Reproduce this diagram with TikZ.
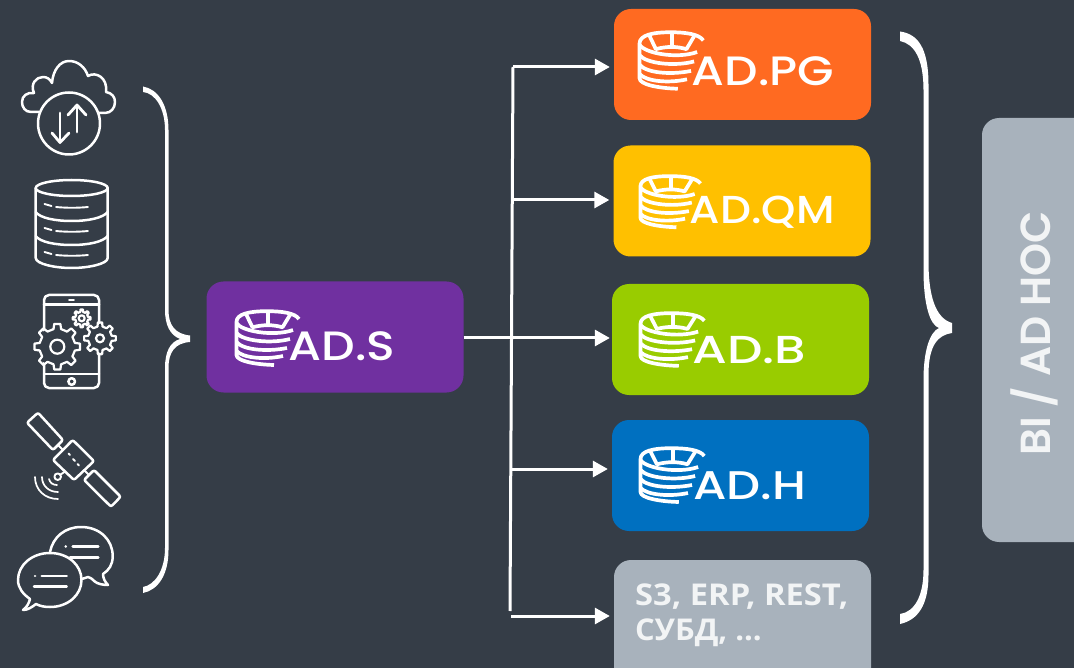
\documentclass[tikz,border=0pt]{standalone}
\usepackage{fontspec}
\usetikzlibrary{arrows.meta}
\newfontfamily\popsfont{Poppins Medium}
\newfontfamily\popsbold{Poppins SemiBold}
\newfontfamily\semifont{Open Sans}[BoldFont={Open Sans Bold}]
\definecolor{bgc}{HTML}{353D47}
\definecolor{cpg}{HTML}{FF6A21}
\definecolor{cqm}{HTML}{FFC000}
\definecolor{cb}{HTML}{99CC00}
\definecolor{ch}{HTML}{0070C0}
\definecolor{cs}{HTML}{7030A0}
\definecolor{cg}{HTML}{A8B2BC}
\definecolor{lt}{HTML}{F2F4F5}
\tikzset{
  card/.style={rounded corners=17pt,minimum width=257pt,minimum height=111pt,inner sep=0pt},
  lab/.style={anchor=base west,inner sep=0pt,text=white,transform shape},
  wire/.style={draw=white,line width=3pt},
  arr/.style={wire,-{Triangle[length=15pt,width=16pt]},shorten >=4pt},
  ico/.style={draw=white,line width=2.5pt,line join=round,line cap=round},
  logol/.style={draw=white,line width=3.7pt,line cap=butt,line join=round}
}
\newcommand{\adlogo}[4]{%
\begin{scope}[shift={(#1,#2)},xscale=#3,yscale=#4]
  \draw[logol] (64,9) .. controls (60,3) and (47,1.2) .. (32,1.2) .. controls (14,1.2) and (1.5,4) .. (1.5,12) -- (1.5,45) .. controls (1.5,51) and (20,54.5) .. (39,55);
  \draw[logol] (11,4) -- (17.5,17.3) .. controls (28,14.5) and (38,14.5) .. (47.5,17.3) -- (55,5);
  \draw[logol] (33,1.5) -- (33,15);
  \draw[logol] (1.5,13) .. controls (6,21) and (38,27) .. (58,20);
  \draw[logol] (1.5,23) .. controls (8,31) and (36,34) .. (55,29);
  \draw[logol] (1.5,32) .. controls (8,40) and (32,42) .. (52,38);
  \draw[logol] (1.5,41) .. controls (8,48) and (30,50) .. (48,46);
\end{scope}}
\newcommand{\gearico}[6]{% x y outer root teeth hole
\begin{scope}[shift={(#1,#2)}]
  \fill[bgc] (0,0) circle[radius=#3*0.9pt];
  \foreach \i in {1,...,#5}{
    \pgfmathsetmacro{\aa}{360/#5*\i}
    \pgfmathsetmacro{\st}{360/#5}
    \draw[ico,line width=2.2pt] (\aa-\st*0.27:#4) -- (\aa-\st*0.17:#3) -- (\aa+\st*0.17:#3) -- (\aa+\st*0.27:#4) -- (\aa+\st*0.73:#4);
  }
  \draw[ico,line width=2.2pt] (0,0) circle[radius=#6*1pt];
\end{scope}}
\begin{document}
\begin{tikzpicture}[x=1pt,y=-1pt]
\useasboundingbox (0,0) rectangle (1074,668);
\clip (0,0) rectangle (1074,668);
\fill[bgc] (0,0) rectangle (1074,668);

% boxes
\node[card,fill=cs] (ads) at (335,337) {};
\node[card,fill=cpg] (pg) at (742.5,64.5) {};
\node[card,fill=cqm] (qm) at (742,201) {};
\node[card,fill=cb] (b) at (740.5,339.5) {};
\node[card,fill=ch] (h) at (740.5,475.5) {};
\node[card,fill=cg,minimum height=130pt] (s3) at (742.5,625) {};
\node[card,fill=cg,minimum width=130pt,minimum height=424pt] (bi) at (1047,330) {};

% logos and labels
\adlogo{235}{310}{1}{1}
\adlogo{638}{31}{1.02}{1.05}
\adlogo{639}{175}{0.96}{0.95}
\adlogo{639}{312}{1.02}{0.98}
\adlogo{639}{447}{1.02}{1}
\node[lab,xscale=1.155,font=\popsfont\fontsize{41}{41}\selectfont] (tads) at (288.5,361) {AD.S};
\node[lab,xscale=1.15,font=\popsfont\fontsize{41}{41}\selectfont] (tpg) at (691.5,86) {AD.PG};
\node[lab,xscale=1.12,font=\popsfont\fontsize{39}{39}\selectfont] (tqm) at (689.5,224) {AD.QM};
\node[lab,xscale=1.28,font=\popsfont\fontsize{39}{39}\selectfont] (tb) at (692,363) {AD.B};
\node[lab,xscale=1.2,font=\popsfont\fontsize{40}{40}\selectfont] (th) at (693,499) {AD.H};
\node[lab,xscale=1.09,font=\semifont\bfseries\fontsize{30}{30}\selectfont,text=lt] (ts1) at (635,605) {S3, ERP, REST,};
\node[lab,xscale=1.03,font=\semifont\bfseries\fontsize{30}{30}\selectfont,text=lt] (ts2) at (635,640) {СУБД, ...};
\node[font=\popsbold\fontsize{42}{42}\selectfont,text=lt,rotate=90,inner sep=0pt,anchor=base] (tbi) at (1050,333.5) {BI / AD HOC};

% connectors
\coordinate (j0) at (513,67);
\coordinate (j1) at (512.5,200);
\coordinate (j2) at (512,338);
\coordinate (j3) at (511,469);
\coordinate (j4) at (510,611);
\coordinate (j5) at (511,616);
\draw[wire] (j0) -- (j4);
\draw[wire] (ads.east |- j2) -- (j2);
\draw[arr] (j0) -- (pg.west |- j0);
\draw[arr] (j1) -- (qm.west |- j1);
\draw[arr,shorten >=2pt] (j2) -- (b.west |- j2);
\draw[arr] (j3) -- (h.west |- j3);
\draw[arr] (j5) -- (s3.west |- j5);

% braces
\fill[white] (143,86.5) .. controls (158,89) and (168.5,105) .. (168.5,130) -- (168.5,310) .. controls (168.5,325) and (175,334) .. (190,335.5) -- (190,342) .. controls (175,343) and (168.5,352) .. (168.5,368) -- (168.5,550) .. controls (168.5,575) and (158,590) .. (143,593) -- (143,587) .. controls (155,585) and (165,570) .. (165,548) -- (165,368) .. controls (165,352) and (170,342) .. (180,339) .. controls (170,335) and (165,325) .. (165,310) -- (165,130) .. controls (165,108) and (155,93) .. (143,92) -- cycle;
\fill[white] (900,31.5) .. controls (918,34) and (928.5,48) .. (928.5,85) -- (928.5,265) .. controls (929,295) and (935,318) .. (952,323) -- (952,333) .. controls (938,335) and (928.5,345) .. (928.5,375) -- (928.5,575) .. controls (928.5,605) and (918,620) .. (900,624) -- (900,614) .. controls (915,612) and (923.5,595) .. (923.5,570) -- (923.5,380) .. controls (923.5,350) and (930,332) .. (939,328) .. controls (930,325) and (923.5,305) .. (923.5,270) -- (923.5,90) .. controls (923.5,60) and (915,44) .. (900,41) -- cycle;

% cloud
\draw[ico] (39,112) -- (31,112) .. controls (25,112) and (22,107) .. (22,102) .. controls (22,96) and (27,92) .. (34,93) .. controls (30,84) and (36,77) .. (43,77) .. controls (47,77) and (50,79) .. (52,83) .. controls (53,70) and (60,61) .. (69,61) .. controls (78,61) and (85,67) .. (88,76) .. controls (96,71) and (108,78) .. (106,92) .. controls (112,93) and (115,97) .. (115,102) .. controls (115,108) and (111,113) .. (105,113) -- (99,113);
\draw[ico] (69,123.5) circle[radius=31pt];
\draw[ico,line width=2.8pt] (60,113) -- (60,142);
\draw[ico,line width=2.8pt] (52,133) -- (60,142.5) -- (69,133);
\draw[ico,line width=2.8pt] (77,132) -- (77,106);
\draw[ico,line width=2.8pt] (68,115) -- (77,105) -- (86,115);

% database
\draw[ico] (71.7,188) ellipse[x radius=36pt,y radius=8pt];
\draw[ico] (35.7,188) -- (35.7,258) .. controls (36,264) and (55,268) .. (71.7,268) .. controls (88,268) and (107.7,264) .. (107.7,258) -- (107.7,188);
\draw[ico] (35.7,212) .. controls (40,218) and (55,221) .. (71.7,221) .. controls (88,221) and (103,218) .. (107.7,212);
\draw[ico] (35.7,236) .. controls (40,242) and (55,245) .. (71.7,245) .. controls (88,245) and (103,242) .. (107.7,236);
\foreach \yy in {207,231,255}{
  \draw[ico,line width=1.9pt] (44.5,\yy-3) -- (51.5,\yy-1);
  \draw[ico,line width=1.9pt] (56,\yy) .. controls (66,\yy+1) and (78,\yy+1) .. (88,\yy);
}

% phone
\draw[ico,rounded corners=5pt] (44,295) rectangle (99,388);
\draw[ico] (44,304.5) -- (99,304.5);
\draw[ico] (44,374) -- (99,374);
\draw[ico,line width=1.9pt] (69,300) -- (74,300);
\draw[ico] (71.7,381.5) circle[radius=3.3pt];
\gearico{57.3}{346.7}{23}{18}{8}{7}
\gearico{100}{338.3}{16}{12}{8}{4}
\gearico{81.7}{318.3}{9}{6.5}{8}{3}

% satellite
\draw[ico,rounded corners=2pt] (72.7,440) -- (94,461) -- (74,480) -- (53,460) -- cycle;
\draw[ico,rounded corners=2pt] (38,412.7) -- (63,440) -- (53,450) -- (27,422.7) -- cycle;
\draw[ico,rounded corners=2pt] (94,470) -- (120.7,496.7) -- (111,506.7) -- (84,480) -- cycle;
\draw[ico,line width=1.9pt] (58,445) -- (63,450);
\draw[ico,line width=1.9pt] (89,475) -- (84,470);
\draw[ico,line width=1.9pt] (68.5,453.5) -- (70,455);
\draw[ico,line width=1.9pt] (73,459) -- (75,461);
\draw[ico,line width=1.9pt] (77.5,464) -- (79,465.5);
\draw[ico,line width=1.9pt] (65,471.5) -- (60,475);
\draw[ico,line width=1.9pt] (57.7,476.7) circle[radius=3.3pt];
\draw[ico,line width=1.7pt] (35,477) .. controls (35,490) and (45,499) .. (58,499);
\draw[ico,line width=1.7pt] (42,477) .. controls (42,486) and (49,492) .. (58,492);
\draw[ico,line width=1.7pt] (49,479) .. controls (50,483) and (53,485) .. (57,485);

% chat bubbles
\draw[ico] (50,552) .. controls (53,537) and (65,527) .. (81,527) .. controls (100,527) and (112.7,540) .. (112.7,556) .. controls (112.7,565) and (109,570) .. (103,574) .. controls (103,578) and (105,582) .. (108,585) .. controls (103,585) and (98,584) .. (95,581.7) .. controls (92,579) and (90,577) .. (88,577) .. controls (86,577.5) and (84,578.5) .. (81.7,579);
\draw[ico] (30,599) .. controls (23,594) and (18,588) .. (18,580) .. controls (18,565) and (32,553) .. (50,553) .. controls (68,553) and (81.5,565) .. (81.5,580) .. controls (81.5,595) and (68,607) .. (50,607) .. controls (44,607) and (40,606) .. (36,604) .. controls (32,607) and (28,610) .. (23,610) .. controls (27,607) and (29,603) .. (30,599) -- cycle;
\draw[ico] (65.7,546.7) -- (65.8,546.7);
\draw[ico] (72.7,546.7) -- (98.3,546.7);
\draw[ico] (70,557.3) -- (98.3,557.3);
\draw[ico] (35,576) -- (35.1,576);
\draw[ico] (41.7,576) -- (66.7,576);
\draw[ico] (34,586.7) -- (66.7,586.7);
\end{tikzpicture}
\end{document}
